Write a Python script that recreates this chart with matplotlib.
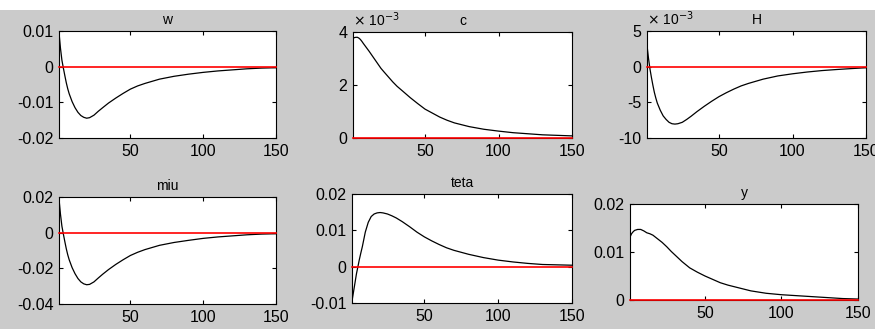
import matplotlib
matplotlib.use("Agg")
import matplotlib.pyplot as plt
import matplotlib.patches as mpatches

t = [1, 2, 3, 4, 5, 6, 7, 8, 10, 12, 14, 16, 18, 20, 22, 25, 28, 31, 35, 40,
     45, 50, 55, 60, 65, 70, 80, 90, 100, 110, 120, 130, 140, 150]

w = [0.0096, 0.0052, 0.0018, -0.0004, -0.0025, -0.0045, -0.0062, -0.0076,
     -0.0098, -0.0115, -0.0128, -0.0137, -0.0142, -0.01445, -0.0143, -0.0136,
     -0.0125, -0.0115, -0.0102, -0.0088, -0.0075, -0.0063, -0.0054, -0.0047,
     -0.0041, -0.0035, -0.0027, -0.0021, -0.0016, -0.0012, -0.0009, -0.0006,
     -0.0004, -0.0003]

c = [3.76, 3.79, 3.80, 3.80, 3.77, 3.72, 3.65, 3.57, 3.42, 3.27, 3.11, 2.95,
     2.79, 2.63, 2.50, 2.31, 2.12, 1.95, 1.76, 1.52, 1.30, 1.09, 0.94, 0.79,
     0.67, 0.57, 0.43, 0.33, 0.26, 0.20, 0.16, 0.12, 0.10, 0.08]  # x 1e-3

H = [3.0, 1.2, -0.3, -1.5, -2.6, -3.6, -4.4, -5.1, -6.1, -6.9, -7.4, -7.8,
     -8.0, -8.05, -8.0, -7.8, -7.4, -6.95, -6.3, -5.55, -4.85, -4.2, -3.65,
     -3.15, -2.7, -2.35, -1.75, -1.3, -1.0, -0.75, -0.55, -0.4, -0.27,
     -0.15]  # x 1e-3

miu = [0.0190, 0.0104, 0.0036, -0.0008, -0.0050, -0.0090, -0.0124, -0.0152,
       -0.0196, -0.0230, -0.0257, -0.0276, -0.0287, -0.0292, -0.0290, -0.0276,
       -0.0254, -0.0233, -0.0207, -0.0178, -0.0152, -0.0128, -0.0110, -0.0095,
       -0.0083, -0.0071, -0.0055, -0.0043, -0.0032, -0.0024, -0.0018, -0.0012,
       -0.0008, -0.0006]

teta = [-0.0095, -0.0070, -0.0045, -0.0020, 0.0000, 0.0020, 0.0038, 0.0055,
        0.0095, 0.0122, 0.0138, 0.0145, 0.0148, 0.0149, 0.0148, 0.0145,
        0.0140, 0.0134, 0.0124, 0.0110, 0.0095, 0.0082, 0.0071, 0.0061,
        0.0052, 0.0045, 0.0034, 0.0025, 0.0018, 0.0013, 0.0009, 0.0006,
        0.0005, 0.0004]

y = [0.0131, 0.0138, 0.0142, 0.0145, 0.0146, 0.0147, 0.0147, 0.0147, 0.0144,
     0.0140, 0.0138, 0.0135, 0.0130, 0.0125, 0.0120, 0.0111, 0.0101, 0.0092,
     0.0080, 0.0067, 0.0058, 0.0050, 0.0043, 0.0036, 0.0031, 0.0027, 0.0019,
     0.0014, 0.0011, 0.0009, 0.0007, 0.0005, 0.0003, 0.0002]

panels = [
    ("w", w, (-0.02, 0.01), [-0.02, -0.01, 0, 0.01], ["-0.02", "-0.01", "0", "0.01"], False),
    ("c", c, (0, 4), [0, 2, 4], ["0", "2", "4"], True),
    ("H", H, (-10, 5), [-10, -5, 0, 5], ["-10", "-5", "0", "5"], True),
    ("miu", miu, (-0.04, 0.02), [-0.04, -0.02, 0, 0.02], ["-0.04", "-0.02", "0", "0.02"], False),
    ("teta", teta, (-0.01, 0.02), [-0.01, 0, 0.01, 0.02], ["-0.01", "0", "0.01", "0.02"], False),
    ("y", y, (0, 0.02), [0, 0.01, 0.02], ["0", "0.01", "0.02"], False),
]

# axes boxes in pixels: left, top, right, bottom
boxes = [(59, 31, 276, 138), (353, 32, 572, 138), (647, 31, 866, 138),
         (59, 197, 276, 304), (352, 194, 572, 303), (630, 204, 858, 300)]

W, Hpx = 875, 329
plt.rcParams['font.family'] = ['Liberation Sans', 'DejaVu Sans']
fig = plt.figure(figsize=(W / 100, Hpx / 100), dpi=100, facecolor='#cbcbcb')
fig.patches.append(mpatches.Rectangle((0, 1 - 10 / Hpx), 1, 10 / Hpx,
                                      transform=fig.transFigure,
                                      facecolor='white', edgecolor='none'))

for (name, vals, ylim, yt, ytl, scaled), (l, tp, r, b) in zip(panels, boxes):
    ax = fig.add_axes([l / W, 1 - b / Hpx, (r - l) / W, (b - tp) / Hpx])
    ax.plot(t, vals, color='black', lw=0.9)
    ax.axhline(0, color='red', lw=1.2, zorder=3, clip_on=False)
    ax.set_xlim(1, 150)
    ax.set_ylim(*ylim)
    ax.set_xticks([50, 100, 150])
    ax.set_yticks(yt)
    ax.set_yticklabels(ytl)
    ax.tick_params(direction='in', top=True, right=True, length=3,
                   labelsize=11.5, pad=4)
    for s in ax.spines.values():
        s.set_linewidth(0.8)
    ax.set_title(name, fontsize=10, pad=5)
    if scaled:
        ax.text(0, 1.03, r"$\times$ 10$^{-3}$", transform=ax.transAxes,
                fontsize=10, va='bottom', ha='left')

fig.savefig("out.png", dpi=100, facecolor=fig.get_facecolor())
